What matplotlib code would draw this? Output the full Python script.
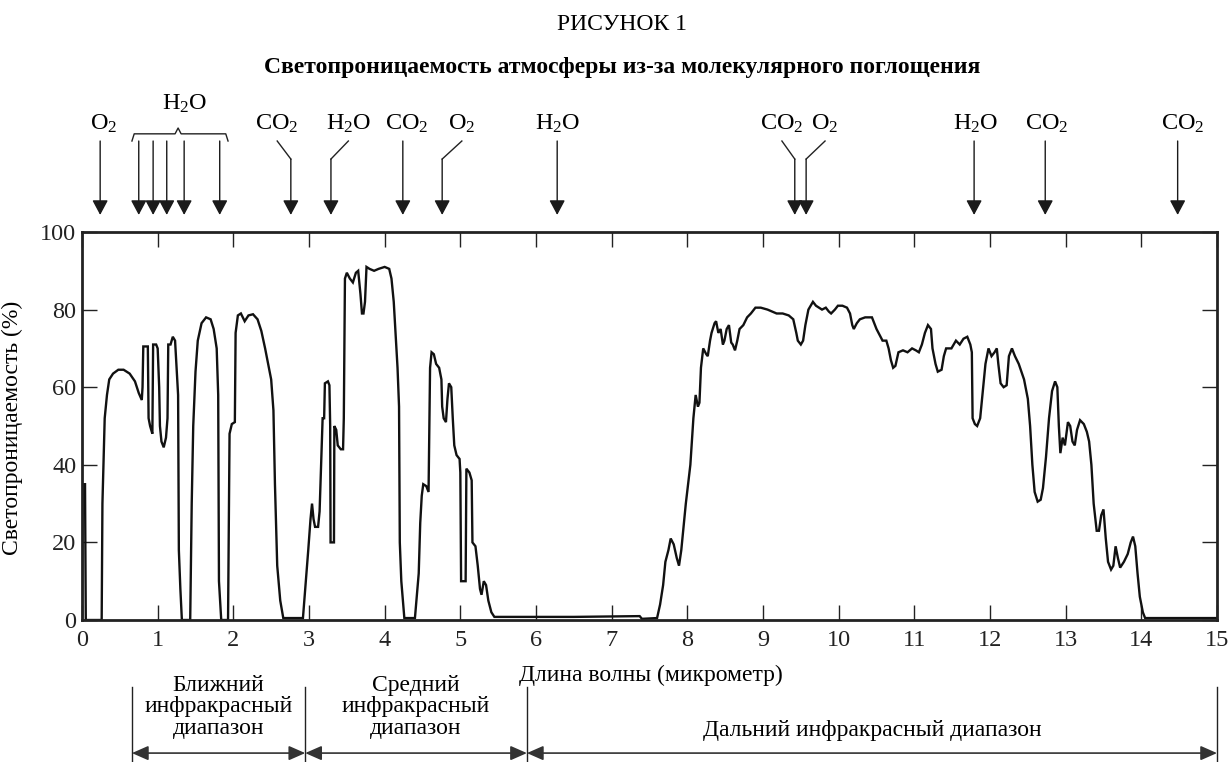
import matplotlib
matplotlib.use('Agg')
import matplotlib.pyplot as plt

plt.rcParams['font.family'] = ['Liberation Serif', 'DejaVu Serif']
plt.rcParams['mathtext.fontset'] = 'custom'
plt.rcParams['mathtext.rm'] = 'Liberation Serif'

# кривая светопроницаемости (мкм, %)
wl = [0.0, 0.01, 0.04, 0.05, 0.26, 0.27, 0.30, 0.33, 0.36, 0.41, 0.48, 0.55, 0.63, 0.70, 0.75, 0.79,
      0.80, 0.81, 0.87, 0.88, 0.90, 0.93, 0.94, 0.98, 1.00, 1.02, 1.03, 1.05, 1.08, 1.11, 1.13, 1.14,
      1.17, 1.20, 1.23, 1.25, 1.27, 1.28, 1.30, 1.32, 1.43, 1.45, 1.47, 1.50, 1.53, 1.58, 1.64, 1.70,
      1.74, 1.78, 1.80, 1.81, 1.84, 1.93, 1.95, 1.98, 2.02, 2.03, 2.06, 2.10, 2.15, 2.20, 2.26, 2.32,
      2.37, 2.42, 2.46, 2.50, 2.53, 2.55, 2.58, 2.62, 2.66, 2.92, 2.95, 2.99, 3.02, 3.04, 3.06, 3.08,
      3.12, 3.14, 3.16, 3.18, 3.20, 3.21, 3.25, 3.27, 3.28, 3.285, 3.33, 3.335, 3.36, 3.38, 3.42, 3.45,
      3.46, 3.475, 3.50, 3.54, 3.58, 3.62, 3.65, 3.68, 3.70, 3.72, 3.74, 3.76, 3.80, 3.86, 3.92, 4.00,
      4.06, 4.09, 4.12, 4.14, 4.17, 4.19, 4.20, 4.22, 4.26, 4.40, 4.42, 4.45, 4.47, 4.49, 4.51, 4.55,
      4.58, 4.59, 4.60, 4.62, 4.65, 4.68, 4.72, 4.75, 4.76, 4.78, 4.81, 4.83, 4.85, 4.88, 4.90, 4.92,
      4.95, 4.99, 5.00, 5.01, 5.07, 5.08, 5.12, 5.15, 5.16, 5.20, 5.23, 5.26, 5.28, 5.31, 5.34, 5.37,
      5.41, 5.45, 6.50, 7.37, 7.40, 7.60, 7.64, 7.68, 7.71, 7.75, 7.78, 7.82, 7.86, 7.89, 7.92, 7.94,
      7.98, 8.04, 8.08, 8.11, 8.14, 8.16, 8.18, 8.21, 8.25, 8.27, 8.30, 8.32, 8.36, 8.38, 8.41, 8.44,
      8.47, 8.49, 8.52, 8.55, 8.58, 8.60, 8.63, 8.66, 8.69, 8.74, 8.79, 8.84, 8.90, 8.97, 9.06, 9.12,
      9.18, 9.26, 9.34, 9.40, 9.44, 9.46, 9.50, 9.53, 9.56, 9.60, 9.63, 9.66, 9.70, 9.74, 9.78, 9.83,
      9.87, 9.90, 9.95, 9.99, 10.05, 10.11, 10.15, 10.18, 10.20, 10.24, 10.28, 10.35, 10.44, 10.48,
      10.50, 10.54, 10.58, 10.63, 10.66, 10.69, 10.72, 10.75, 10.79, 10.85, 10.91, 10.97, 11.02,
      11.06, 11.10, 11.14, 11.18, 11.22, 11.24, 11.28, 11.31, 11.36, 11.39, 11.42, 11.49, 11.55,
      11.60, 11.65, 11.70, 11.74, 11.76, 11.77, 11.80, 11.83, 11.87, 11.90, 11.94, 11.98, 12.02,
      12.06, 12.09, 12.11, 12.14, 12.18, 12.22, 12.25, 12.29, 12.33, 12.38, 12.45, 12.50, 12.53,
      12.56, 12.59, 12.63, 12.67, 12.70, 12.74, 12.78, 12.82, 12.86, 12.89, 12.91, 12.93, 12.96,
      12.99, 13.03, 13.06, 13.09, 13.12, 13.15, 13.19, 13.24, 13.28, 13.31, 13.34, 13.37, 13.41,
      13.44, 13.47, 13.50, 13.53, 13.56, 13.60, 13.63, 13.66, 13.69, 13.72, 13.77, 13.82, 13.86,
      13.89, 13.92, 13.95, 13.98, 14.02, 14.05, 15.0]
trans = [0, 35, 35, 0, 0, 30, 52, 58, 62, 63.5, 64.5, 64.5, 63.5, 61.5, 58.5, 56.7,
         60, 70.5, 70.5, 52, 50, 48, 71, 71, 70, 60, 50, 46, 44.5, 47, 52, 71,
         71, 73, 72, 65, 58, 18, 8, 0, 0, 30, 50, 64, 72, 76.5, 78, 77.5,
         75, 70, 58, 10, 0, 0, 48, 50.5, 51, 74, 78.5, 79, 77, 78.5, 78.8, 77.5,
         74.5, 70, 66, 62, 54, 35, 14, 5, 0.5, 0.5, 8, 18, 26, 30, 26, 24,
         24, 28, 40, 52, 52, 61, 61.5, 60.5, 50, 20, 20, 50, 49, 45, 44, 44,
         52, 88, 89.5, 88, 87, 89.5, 90, 84, 79, 79, 82, 91, 90.5, 90, 90.5, 91,
         90.5, 88, 82, 75, 65, 55, 20, 10, 0.5, 0.5, 5, 12, 25, 32, 35, 34.5,
         33, 50, 65, 69, 68.5, 66, 65, 62, 55, 52, 51, 57, 61, 60, 52, 45,
         42.5, 41.5, 38, 10, 10, 39, 38, 36, 20, 19, 14, 8, 6.5, 10, 9, 5,
         2, 0.8, 0.8, 1, 0.3, 0.5, 4, 9, 15, 18, 21, 19.5, 16, 14, 18, 22,
         30, 40, 52, 58, 55, 56, 65, 70, 68.5, 68, 72, 74, 76.5, 77, 74, 75,
         71, 72, 75, 76, 71.5, 71, 69.5, 72, 75, 76, 78, 79, 80.5, 80.5, 80, 79.5,
         79, 79, 78.5, 77.5, 74, 72, 71, 72, 76, 80, 81, 82, 81, 80.5, 80, 80.5,
         79.5, 79, 80, 81, 81, 80.5, 79, 76, 75, 76.5, 77.5, 78, 78, 76,
         75, 73.5, 72, 72, 70, 67, 65, 65.5, 69, 69.5, 69, 70, 69.5,
         69, 71, 74, 76, 75, 70, 66, 64, 64.5, 68, 70, 70, 72,
         71, 72.5, 73, 71, 69, 52, 50.5, 50, 52, 58, 66, 70, 68,
         69, 70, 66, 61, 60, 60.5, 68, 70, 68, 66, 62, 57, 50,
         40, 33, 30.5, 31, 34, 42, 52, 59, 61.5, 60, 50, 43, 47,
         45, 51, 50, 46, 45, 49, 51.5, 50.5, 48.5, 46, 40, 30, 23,
         23, 27, 28.5, 21, 15, 13, 14, 19, 16, 13.5, 15, 17, 20,
         21.5, 19, 12, 6, 2, 0.5, 0.5]

# полосы поглощения
mol_names = ['O_2', 'CO_2', 'H_2O', 'CO_2', 'O_2', 'H_2O', 'CO_2', 'O_2', 'H_2O', 'CO_2', 'CO_2']
mol_label_x = [0.29, 2.58, 3.52, 4.29, 5.02, 6.29, 9.25, 9.82, 11.81, 12.75, 14.55]
mol_arrow_x = [0.24, 2.76, 3.29, 4.24, 4.76, 6.28, 9.42, 9.57, 11.79, 12.73, 14.48]
water_arrow_x = [0.75, 0.94, 1.12, 1.35, 1.82]

# диапазоны
band_edges = [0.66, 2.95, 5.88, 15.0]
band_names = ['Ближний\nинфракрасный\nдиапазон', 'Средний\nинфракрасный\nдиапазон',
              'Дальний инфракрасный диапазон']

fig = plt.figure(figsize=(12.32, 7.62), dpi=100)
ax = fig.add_axes([82/1232, 1 - 620/762, 1135/1232, 388/762])

ax.plot(wl, trans, color='#111111', lw=1.7, solid_joinstyle='miter')
ax.set_xlim(0, 15)
ax.set_ylim(0, 100)
ax.set_xticks(range(16))
ax.set_yticks(range(0, 101, 20))
ax.tick_params(direction='in', length=11, width=1, top=True, right=True,
               labelsize=17.5, colors='#222222')
ax.tick_params(axis='x', pad=7)
ax.tick_params(axis='y', pad=4)
for s in ax.spines.values():
    s.set_linewidth(2)
    s.set_color('#222222')

ax.set_ylabel('Светопроницаемость (%)', fontsize=17)
ax.yaxis.set_label_coords(-0.052, 0.495)

fig.text(622/1232, 1 - 25/762, 'РИСУНОК 1', fontsize=17, ha='center', va='center')
fig.text(622/1232, 1 - 68/762, 'Светопроницаемость атмосферы из-за молекулярного поглощения',
         fontsize=17, fontweight='bold', ha='center', va='center')

tr = ax.get_xaxis_transform()
y_tip, y_start, y_bend, y_lab = 1.044, 1.2345, 1.188, 1.278
aprops = dict(arrowstyle='-|>,head_length=0.45,head_width=0.24', mutation_scale=20,
              color='#1a1a1a', lw=1, shrinkA=0, shrinkB=0)

for name, lx, axx in zip(mol_names, mol_label_x, mol_arrow_x):
    ax.text(lx, y_lab, '$\\mathregular{' + name + '}$', transform=tr, fontsize=17.5,
            ha='center', va='center')
    if abs(lx - axx) > 0.1:
        ax.plot([lx, axx], [y_start, y_bend], transform=tr, color='#222222', lw=1, clip_on=False)
        top = y_bend
    else:
        top = y_start
    ax.annotate('', xy=(axx, y_tip), xytext=(axx, top), xycoords=tr, textcoords=tr,
                arrowprops=aprops, annotation_clip=False)

for axx in water_arrow_x:
    ax.annotate('', xy=(axx, y_tip), xytext=(axx, y_start), xycoords=tr, textcoords=tr,
                arrowprops=aprops, annotation_clip=False)
ax.text(1.36, 1.330, '$\\mathregular{H_2O}$', transform=tr, fontsize=17.5, ha='center', va='center')
bx = [0.66, 0.69, 1.23, 1.27, 1.31, 1.90, 1.93]
by = [1.2345, 1.253, 1.253, 1.268, 1.253, 1.253, 1.2345]
ax.plot(bx, by, transform=tr, color='#222222', lw=1, clip_on=False)

ax.text(5.78, -0.142, 'Длина волны (микрометр)', transform=tr, fontsize=17, ha='left', va='center')

bprops = dict(arrowstyle='<|-|>,head_length=0.5,head_width=0.22', mutation_scale=20,
              color='#333333', lw=1.2, shrinkA=0, shrinkB=0)
for e in band_edges:
    ax.plot([e, e], [-0.173, -0.37], transform=tr, color='#222222', lw=1, clip_on=False)
for i, name in enumerate(band_names):
    a, b = band_edges[i], band_edges[i + 1]
    ax.annotate('', xy=(a, -0.343), xytext=(b, -0.343), xycoords=tr, textcoords=tr,
                arrowprops=bprops, annotation_clip=False)
    yt = -0.284 if i == 2 else -0.224
    ax.text((a + b) / 2, yt, name, transform=tr, fontsize=17, ha='center', va='center',
            linespacing=1.05)

fig.savefig('out.png', dpi=100)
